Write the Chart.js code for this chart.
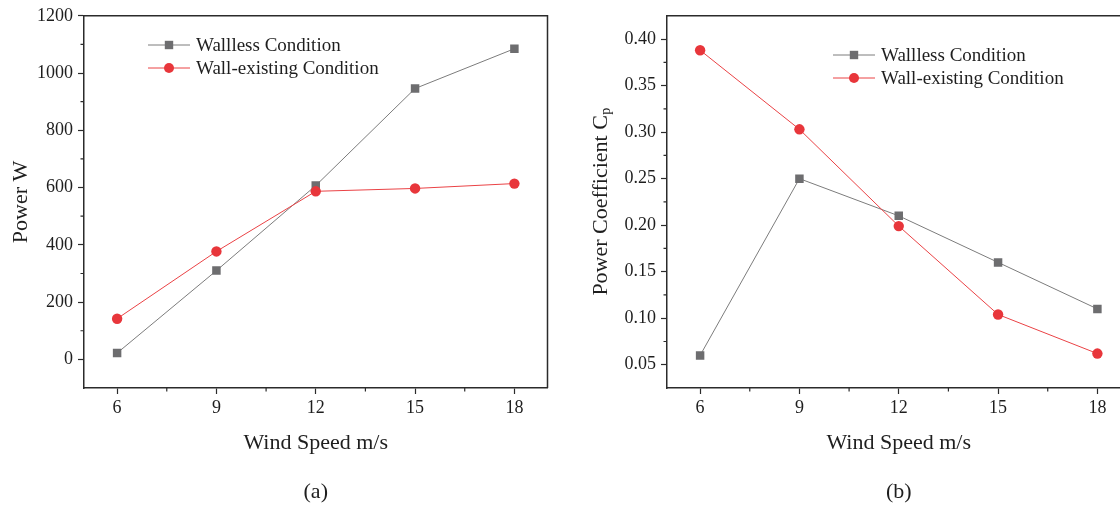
<!DOCTYPE html>
<html>
<head>
<meta charset="utf-8">
<script src="https://cdn.jsdelivr.net/npm/chart.js@4/dist/chart.umd.min.js"></script>
<style>
  html,body{margin:0;padding:0;background:#fff;}
  body{width:1120px;height:506px;overflow:hidden;position:relative;}
  canvas{position:absolute;top:0;}
</style>
</head>
<body>
<canvas id="chartA" width="560" height="506" style="left:0"></canvas>
<canvas id="chartB" width="560" height="506" style="left:583px"></canvas>
<script>
/* ── DATA ── */
const windSpeed   = [6, 9, 12, 15, 18];
const xTicks      = [6, 9, 12, 15, 18];
const xMinor      = [7.5, 10.5, 13.5, 16.5];

const powerWallless = [22, 310, 607, 946, 1085];
const powerWall     = [142, 377, 587, 597, 614];
const yTicksA       = [0, 200, 400, 600, 800, 1000, 1200];
const yMinorA       = [100, 300, 500, 700, 900, 1100];

const cpWallless = [0.06, 0.25, 0.21, 0.16, 0.11];
const cpWall     = [0.388, 0.303, 0.199, 0.104, 0.062];
const yTicksB    = [0.05, 0.10, 0.15, 0.20, 0.25, 0.30, 0.35, 0.40];
const yMinorB    = [0.075, 0.125, 0.175, 0.225, 0.275, 0.325, 0.375];

const seriesNames = ['Wallless Condition', 'Wall-existing Condition'];

const AXIS = '#2b2b2b';
const GRAY = '#6d6d6f', GRAY_LINE = '#7c7c7c';
const RED  = '#e8363b', RED_LINE  = '#ea4245';
const TEXT = '#1e1e1e';
const FONT = "'Liberation Serif', 'Times New Roman', serif";

Chart.defaults.font.family = FONT;
Chart.defaults.font.size = 18;
Chart.defaults.color = TEXT;

/* ── PLUGINS ── */
// frame on top/right + minor ticks + axis titles + legend + panel caption
const decor = {
  id: 'decor',
  afterDraw(chart, args, o) {
    const {ctx, chartArea: ca, scales: {x, y}} = chart;
    ctx.save();
    ctx.strokeStyle = AXIS; ctx.lineWidth = 1.5;
    ctx.beginPath();
    ctx.moveTo(ca.left, ca.top); ctx.lineTo(ca.right, ca.top); ctx.lineTo(ca.right, ca.bottom);
    ctx.stroke();
    // minor ticks
    ctx.lineWidth = 1.2;
    ctx.beginPath();
    xMinor.forEach(v => { const p = x.getPixelForValue(v); ctx.moveTo(p, ca.bottom); ctx.lineTo(p, ca.bottom + 3.5); });
    o.yMinor.forEach(v => { const p = y.getPixelForValue(v); ctx.moveTo(ca.left, p); ctx.lineTo(ca.left - 3.5, p); });
    ctx.stroke();

    // axis titles
    ctx.fillStyle = TEXT;
    ctx.font = '22px ' + FONT;
    ctx.textAlign = 'center'; ctx.textBaseline = 'alphabetic';
    const cx = (ca.left + ca.right) / 2;
    ctx.fillText('Wind Speed m/s', cx, 449);
    ctx.fillText(o.caption, cx, 498);

    ctx.save();
    ctx.translate(o.yTitleX, (ca.top + ca.bottom) / 2);
    ctx.rotate(-Math.PI / 2);
    ctx.textBaseline = 'middle';
    if (o.sub) {
      const w1 = ctx.measureText(o.yTitle).width;
      ctx.font = '14px ' + FONT;
      const w2 = ctx.measureText(o.sub).width;
      ctx.textAlign = 'left';
      ctx.font = '22px ' + FONT;
      ctx.fillText(o.yTitle, -(w1 + w2) / 2, 0);
      ctx.font = '14px ' + FONT;
      ctx.fillText(o.sub, -(w1 + w2) / 2 + w1 + 0.5, 5);
    } else {
      ctx.fillText(o.yTitle, 0, 0);
    }
    ctx.restore();

    // legend
    ctx.font = '19px ' + FONT;
    ctx.textAlign = 'left'; ctx.textBaseline = 'middle';
    chart.data.datasets.forEach((ds, i) => {
      const ly = o.legendY + i * 23;
      const x1 = o.legendX, x2 = o.legendX + 42, mx = (x1 + x2) / 2;
      ctx.strokeStyle = ds.borderColor; ctx.lineWidth = 1;
      ctx.beginPath(); ctx.moveTo(x1, ly); ctx.lineTo(x2, ly); ctx.stroke();
      ctx.fillStyle = ds.pointBackgroundColor;
      if (ds.pointStyle === 'rect') ctx.fillRect(mx - 4.2, ly - 4.2, 8.4, 8.4);
      else { ctx.beginPath(); ctx.arc(mx, ly, 5, 0, Math.PI * 2); ctx.fill(); }
      ctx.fillStyle = TEXT;
      ctx.fillText(ds.label, x2 + 6, ly + 1);
    });
    ctx.restore();
  }
};

function makeChart(id, dataA, dataB, yMin, yMax, yTicks, fmt, decorOpts) {
  return new Chart(document.getElementById(id), {
    type: 'line',
    data: {
      datasets: [
        { label: seriesNames[0], data: windSpeed.map((v, i) => ({x: v, y: dataA[i]})),
          borderColor: GRAY_LINE, borderWidth: 1, pointStyle: 'rect', pointRadius: 6,
          pointBackgroundColor: GRAY, pointBorderWidth: 0, tension: 0, order: 1 },
        { label: seriesNames[1], data: windSpeed.map((v, i) => ({x: v, y: dataB[i]})),
          borderColor: RED_LINE, borderWidth: 1, pointStyle: 'circle', pointRadius: 5.2,
          pointBackgroundColor: RED, pointBorderWidth: 0, tension: 0, order: 0 }
      ]
    },
    options: {
      responsive: false, animation: false, devicePixelRatio: 1,
      layout: { padding: { top: 15, right: 12.5, left: 0, bottom: 0 } },
      plugins: { legend: { display: false }, tooltip: { enabled: false }, decor: decorOpts },
      scales: {
        x: {
          type: 'linear', min: 5, max: 19,
          afterBuildTicks: s => { s.ticks = xTicks.map(v => ({value: v})); },
          afterFit: s => { s.height = 118; },
          ticks: { padding: 3, callback: v => String(v), maxRotation: 0 },
          grid: { drawOnChartArea: false, tickLength: 6, tickColor: AXIS, tickWidth: 1.2 },
          border: { color: AXIS, width: 1.5 }
        },
        y: {
          min: yMin, max: yMax,
          afterBuildTicks: s => { s.ticks = yTicks.map(v => ({value: v})); },
          afterFit: s => { s.width = 84; },
          ticks: { padding: 5, callback: fmt },
          grid: { drawOnChartArea: false, tickLength: 6, tickColor: AXIS, tickWidth: 1.2 },
          border: { color: AXIS, width: 1.5 }
        }
      }
    },
    plugins: [decor]
  });
}

makeChart('chartA', powerWallless, powerWall, -100, 1200, yTicksA, v => String(v),
  { yMinor: yMinorA, yTitle: 'Power W', yTitleX: 21, caption: '(a)', legendX: 148, legendY: 45 });
makeChart('chartB', cpWallless, cpWall, 0.025, 0.425, yTicksB, v => v.toFixed(2),
  { yMinor: yMinorB, yTitle: 'Power Coefficient C', sub: 'p', yTitleX: 18, caption: '(b)', legendX: 250, legendY: 55 });
</script>
</body>
</html>
